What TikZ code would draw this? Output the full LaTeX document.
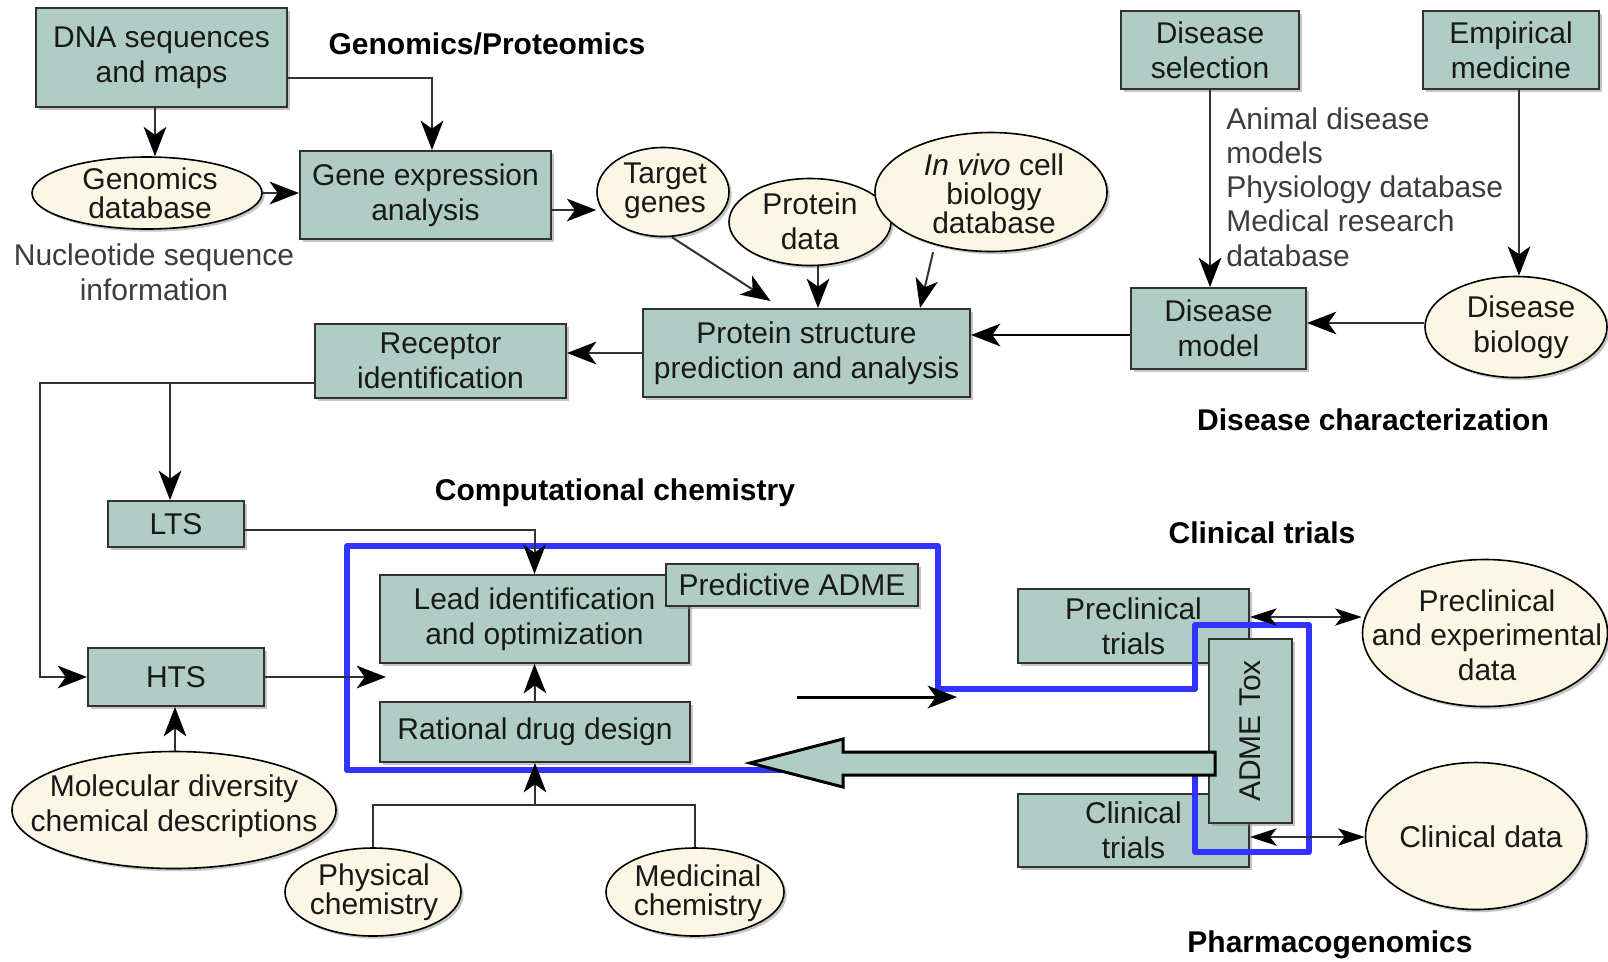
\documentclass[tikz,border=0pt]{standalone}
\usepackage{fontspec}
\setmainfont{Liberation Sans}
\usetikzlibrary{arrows.meta,shapes.geometric,shadows,calc}
\definecolor{boxfill}{RGB}{176,205,197}
\definecolor{ellfill}{RGB}{252,246,228}
\definecolor{bblue}{RGB}{51,51,255}
\definecolor{edgec}{RGB}{50,50,50}
\definecolor{graytext}{RGB}{60,60,60}
\begin{document}
\begin{tikzpicture}[x=0.75pt,y=-0.75pt,
  font=\fontsize{22.5}{26}\selectfont,
  shad/.style={drop shadow={shadow xshift=2pt,shadow yshift=-2pt,fill=black!45,opacity=0.5}},
  box/.style={draw=edgec, line width=1.5pt, fill=boxfill, rectangle, inner sep=2pt, align=center, text=black!90, shad},
  ell/.style={draw=black, line width=1.2pt, fill=ellfill, ellipse, inner sep=0pt, shad},
  txt/.style={align=center, inner sep=0pt, text=black!90},
  tight/.style={txt, font=\fontsize{22.5}{21.75}\selectfont},
  gtxt/.style={inner sep=0pt, text=graytext},
  ttl/.style={inner sep=0pt, font=\fontsize{22.5}{26}\selectfont\bfseries},
  conn/.style={draw=edgec, line width=1.5pt},
  arr/.style={conn, -{Stealth[length=22pt,width=17pt,inset=6pt,color=black]}},
  darr/.style={conn, {Stealth[length=20pt,width=13pt,inset=5pt,color=black]}-{Stealth[length=20pt,width=13pt,inset=5pt,color=black]}},
  blueline/.style={draw=bblue, line width=4.5pt, line join=round},
  blockarr/.style={draw=black, line width=2.25pt, fill=boxfill, line join=miter}
]
\fill[white] (0,0) rectangle (1608,961);
\useasboundingbox (0,0) rectangle (1608,961);

% ---------- titles ----------
\node[ttl] (t1) at (487,44) {Genomics/Proteomics};
\node[ttl] (t2) at (1373,420) {Disease characterization};
\node[ttl] (t3) at (615,493) {Computational chemistry};
\node[ttl] (t4) at (1262,533) {Clinical trials};
\node[ttl] (t5) at (1330,945) {Pharmacogenomics};

% ---------- boxes ----------
\node[box, minimum width=188.25pt, minimum height=74.25pt] (dna) at (161.5,57.5) {DNA sequences\\and maps};
\node[box, minimum width=188.25pt, minimum height=66pt] (gene) at (425.5,195) {Gene expression\\analysis};
\node[box, minimum width=245.25pt, minimum height=66pt] (psp) at (806.5,353) {Protein structure\\prediction and analysis};
\node[box, minimum width=133.5pt, minimum height=58.5pt] (ds) at (1210,50) {Disease\\selection};
\node[box, minimum width=132pt, minimum height=58.5pt] (em) at (1511,50) {Empirical\\medicine};
\node[box, minimum width=131.25pt, minimum height=60.75pt] (dm) at (1218.5,328.5) {Disease\\model};
\node[box, minimum width=188.25pt, minimum height=55.5pt] (rec) at (440.5,361) {Receptor\\identification};
\node[box, minimum width=102pt, minimum height=34.5pt] (lts) at (176,524) {LTS};
\node[box, minimum width=132pt, minimum height=43.5pt] (hts) at (176,677) {HTS};
\node[box, minimum width=231.75pt, minimum height=66pt] (lead) at (534.5,619) {Lead identification\\and optimization};
\node[box, minimum width=189pt, minimum height=31.5pt] (pa) at (792,585) {Predictive ADME};
\node[box, minimum width=232.5pt, minimum height=45pt] (rdd) at (535,732) {Rational drug design};
\node[box, minimum width=173.25pt, minimum height=55.5pt] (pt) at (1133.5,626) {Preclinical\\trials};
\node[box, minimum width=173.25pt, minimum height=54.75pt] (ct) at (1133.5,830.5) {Clinical\\trials};
\node[box, rotate=90, minimum width=138pt, minimum height=62.25pt] (adme) at (1250.5,731) {ADME Tox};

% ---------- ellipses ----------
\node[ell, minimum width=172.5pt, minimum height=54pt] (gdb) at (147,193) {};
\node[tight] (gdbt) at (150,193) {Genomics\\database};
\node[ell, minimum width=99pt, minimum height=66.75pt] (tg) at (663,192) {};
\node[tight] (tgt) at (665,191) {Target\\genes};
\node[ell, minimum width=121.5pt, minimum height=65.25pt] (pd) at (810,222) {};
\node[txt] (pdt) at (810,221) {Protein\\data};
\node[ell, minimum width=174pt, minimum height=89.25pt] (iv) at (991,192) {};
\node[tight] (ivt) at (994,194) {\textit{In vivo} cell\\biology\\database};
\node[ell, minimum width=136.5pt, minimum height=75.75pt] (db) at (1516,327) {};
\node[txt] (dbt) at (1521,327) {Disease\\biology};
\node[ell, minimum width=243pt, minimum height=87.75pt] (mol) at (174,810) {};
\node[txt] (molt) at (174,806) {Molecular diversity\\chemical descriptions};
\node[ell, minimum width=132pt, minimum height=66pt] (pc) at (373,892) {};
\node[tight] (pct) at (374,892) {Physical\\chemistry};
\node[ell, minimum width=133.5pt, minimum height=66pt] (mc) at (695,892) {};
\node[tight] (mct) at (698,893) {Medicinal\\chemistry};
\node[ell, minimum width=183.75pt, minimum height=110.25pt] (pe) at (1485,633) {};
\node[txt] (pet) at (1487,635) {Preclinical\\and experimental\\data};
\node[ell, minimum width=165.75pt, minimum height=110.25pt] (cd) at (1476,836) {};
\node[txt] (cdt) at (1481,837) {Clinical data};

% ---------- free texts ----------
\node[gtxt, align=center] (nuc) at (154,272) {Nucleotide sequence\\information};
\node[gtxt, align=left, anchor=west, font=\fontsize{22.5}{25.7}\selectfont] (anim) at (1226,187) {Animal disease\\models\\Physiology database\\Medical research\\database};

% ---------- blue outline ----------
\draw[blueline] (347,546) -- (938,546) -- (938,689) -- (1195,689) -- (1195,625) -- (1309,625) -- (1309,852) -- (1195,852) -- (1195,770) -- (347,770) -- cycle;

% ---------- block arrow ----------
\draw[blockarr] (750,763) -- (843,739) -- (843,752) -- (1215,752) -- (1215,775) -- (843,775) -- (843,787) -- cycle;

% ---------- connectors ----------
\coordinate (htsend) at (386,677);
\coordinate (junc) at (535,805);
\coordinate (blkA) at (797,697);
\coordinate (blkB) at (957,697);

\draw[arr] (155,0 |- dna.south) -- (155,0 |- gdb.north);
\draw[arr] (dna.east |- 0,78) -| (432,0 |- gene.north);
\draw[arr] (gdb.east) -- (gene.west |- gdb.east);
\draw[arr] (gene.east |- 0,210) -- (tg.west |- 0,210);
\draw[arr] ($(tg.south)+(9,0)$) -- ($(psp.north)+(-36,-7)$);
\draw[arr] (818,0 |- pd.south) -- (818,0 |- psp.north);
\draw[arr] ($(iv.south)+(-58,0)$) -- ($(psp.north east)+(-51,0)$);
\draw[arr, draw=black, line width=2pt] (dm.west |- 0,335) -- (psp.east |- 0,335);
\draw[arr] (psp.west |- 0,353) -- (rec.east |- 0,353);
\draw[arr] (1210,0 |- ds.south) -- (1210,0 |- dm.north);
\draw[arr] (1519,0 |- em.south) -- (1519,0 |- db.north);
\draw[arr] (db.west |- 0,323) -- (dm.east |- 0,323);
\draw[arr] (rec.west |- 0,383) -| ($(hts.west)+(-47,0)$) -- (hts.west);
\draw[arr] (170,383) -- (170,0 |- lts.north);
\draw[arr] (lts.east |- 0,530) -| (lead.north);
\draw[arr] (hts.east) -- (htsend);
\draw[arr] (rdd.north) -- (lead.south);
\draw[conn] (pc.north) |- (junc) -| (mc.north);
\draw[arr] (junc) -- (rdd.south);
\draw[arr] (175,0 |- mol.north) -- (175,0 |- hts.south);
\draw[arr, draw=black, line width=2.25pt] (blkA) -- (blkB);
\draw[darr] (pt.east |- 0,617) -- (pe.west |- 0,617);
\draw[darr] (ct.east |- 0,837) -- (cd.west |- 0,837);
\end{tikzpicture}
\end{document}
